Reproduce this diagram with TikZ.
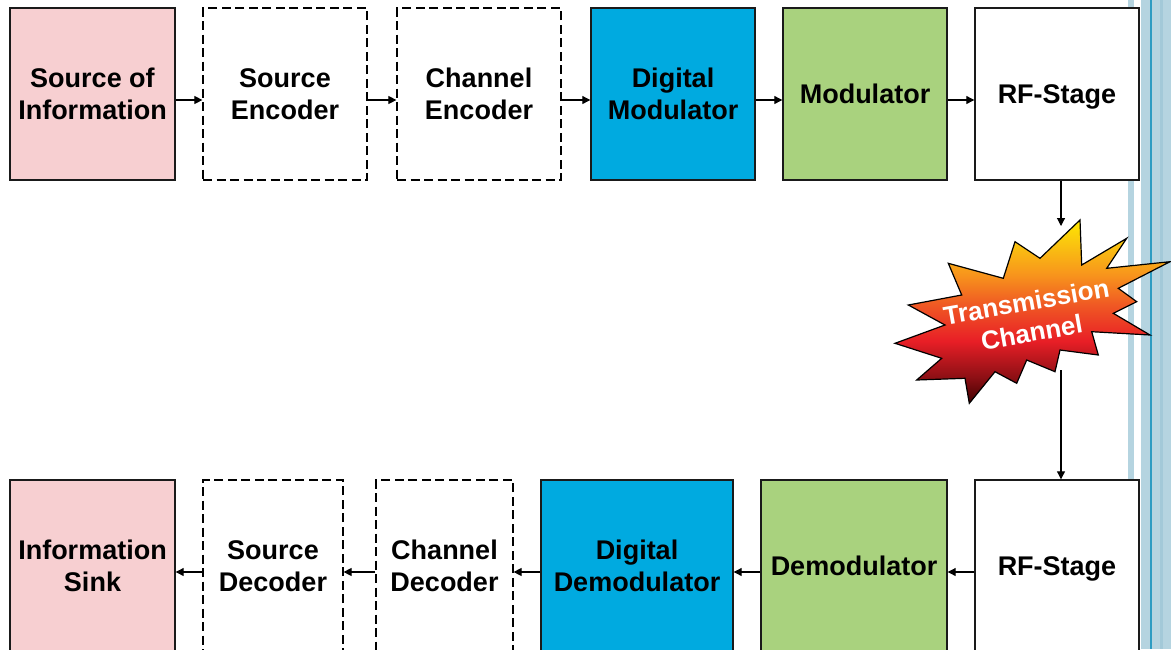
\documentclass[tikz,border=0pt]{standalone}
\usepackage{fontspec}
\setmainfont{Liberation Sans}
\usetikzlibrary{arrows.meta}

\definecolor{srcpink}{HTML}{F7CFD1}
\definecolor{digblue}{HTML}{00AAE0}
\definecolor{modgreen}{HTML}{A9D27E}
\definecolor{edgegray}{HTML}{1A1A1A}
\definecolor{stripelight}{HTML}{B5D4E0}
\definecolor{stripemid}{HTML}{A3C9D8}
\definecolor{stripeteal}{HTML}{2E9CC2}

% dark red at the bottom, through red and orange, to yellow at the top
\pgfdeclareverticalshading{burstfill}{100bp}{%
  rgb(0bp)=(0.25,0.0,0.0);
  rgb(25bp)=(0.25,0.0,0.0);
  rgb(32bp)=(0.55,0.06,0.08);
  rgb(42bp)=(0.91,0.12,0.15);
  rgb(52bp)=(0.94,0.35,0.14);
  rgb(60bp)=(0.97,0.58,0.11);
  rgb(69bp)=(0.98,0.78,0.06);
  rgb(75bp)=(1.0,0.91,0.0);
  rgb(100bp)=(1.0,0.91,0.0)}

\newcommand{\nodepth}[1]{\raisebox{0pt}[\height][0pt]{#1}}

\tikzset{
  box/.style={draw=edgegray, line width=1.4pt, rectangle, minimum height=172pt,
              align=center, font=\bfseries\fontsize{27}{32}\selectfont, inner sep=0pt},
  solidbox/.style={box},
  dashbox/.style={box, draw=black, line width=1.2pt, dash pattern=on 9pt off 4.5pt, fill=white},
  arr/.style={line width=1.1pt, -{Triangle[length=8pt,width=8pt]}},
  burstlabel/.style={text=white, align=center, font=\bfseries\fontsize{26}{31}\selectfont}
}

\begin{document}
\begin{tikzpicture}[x=1pt, y=-1pt]
  \useasboundingbox (0,0) rectangle (1171,649);
  \clip (0,0) rectangle (1171,649);
  \fill[white] (0,0) rectangle (1171,649);

  % decorative stripes along the right edge
  \fill[stripelight] (1127.5,0) rectangle (1134,649);
  \fill[stripelight] (1141,0) rectangle (1171,649);
  \fill[stripemid] (1160,0) rectangle (1163,649);
  \fill[stripeteal] (1150.3,0) rectangle (1151.5,649);

  % transmitter chain
  \node[solidbox, fill=srcpink,  minimum width=165pt] (src)  at (92.5,94) {Source of\\Information};
  \node[dashbox,                 minimum width=164pt] (senc) at (285,94)  {Source\\Encoder};
  \node[dashbox,                 minimum width=164pt] (cenc) at (479,94)  {Channel\\Encoder};
  \node[solidbox, fill=digblue,  minimum width=164pt] (dmod) at (673,94)  {Digital\\Modulator};
  \node[solidbox, fill=modgreen, minimum width=164pt] (mod)  at (865,94)  {Modulator};
  \node[solidbox, fill=white,    minimum width=164pt] (rfa)  at (1057,94) {\nodepth{RF-Stage}};

  % receiver chain
  \node[solidbox, fill=srcpink,  minimum width=165pt] (sink) at (92.5,566) {Information\\Sink};
  \node[dashbox,                 minimum width=140pt] (sdec) at (273,566)  {Source\\Decoder};
  \node[dashbox,                 minimum width=137pt] (cdec) at (444.5,566) {Channel\\Decoder};
  \node[solidbox, fill=digblue,  minimum width=192pt] (ddem) at (637,566)  {Digital\\Demodulator};
  \node[solidbox, fill=modgreen, minimum width=186pt] (dem)  at (854,566)  {Demodulator};
  \node[solidbox, fill=white,    minimum width=164pt] (rfb)  at (1057,566) {\nodepth{RF-Stage}};

  % transmission channel burst
  \path[shading=burstfill, draw=black, line width=1.2pt]
    (1080,220) -- (1081.7,265) -- (1126.7,238.3) -- (1106.7,268.3) -- (1170,261.7)
    -- (1118.3,288.3) -- (1136.7,301.7) -- (1113.3,313.3) -- (1150,335)
    -- (1091.7,331.7) -- (1098.3,355) -- (1060,350) -- (1055,371.7)
    -- (1026.7,360) -- (1016.7,383.3) -- (995,371.7) -- (969.3,403.3)
    -- (965,378.3) -- (916.7,380) -- (941.7,358.3) -- (895,343.3)
    -- (945,325) -- (908.3,305) -- (961.7,295) -- (948.3,263.3)
    -- (1003.3,278.3) -- (1015,241.7) -- (1040,258.3) -- cycle;
  \node[burstlabel, rotate=10] (chan) at (1029,317) {Transmission\\Channel};
  \coordinate (chanin)  at (1061,226);
  \coordinate (chanout) at (1061,370);

  % forward connectors
  \draw[arr] ([yshift=-6pt]src.east)  -- ([yshift=-6pt]senc.west);
  \draw[arr] ([yshift=-6pt]senc.east) -- ([yshift=-6pt]cenc.west);
  \draw[arr] ([yshift=-6pt]cenc.east) -- ([yshift=-6pt]dmod.west);
  \draw[arr] ([yshift=-6pt]dmod.east) -- ([yshift=-6pt]mod.west);
  \draw[arr] ([yshift=-6pt]mod.east)  -- ([yshift=-6pt]rfa.west);
  \draw[arr] ([xshift=4pt]rfa.south) -- (chanin);
  \draw[arr] (chanout) -- ([xshift=4pt]rfb.north);

  % return connectors
  \draw[arr] ([yshift=-6pt]rfb.west)  -- ([yshift=-6pt]dem.east);
  \draw[arr] ([yshift=-6pt]dem.west)  -- ([yshift=-6pt]ddem.east);
  \draw[arr] ([yshift=-6pt]ddem.west) -- ([yshift=-6pt]cdec.east);
  \draw[arr] ([yshift=-6pt]cdec.west) -- ([yshift=-6pt]sdec.east);
  \draw[arr] ([yshift=-6pt]sdec.west) -- ([yshift=-6pt]sink.east);
\end{tikzpicture}
\end{document}
